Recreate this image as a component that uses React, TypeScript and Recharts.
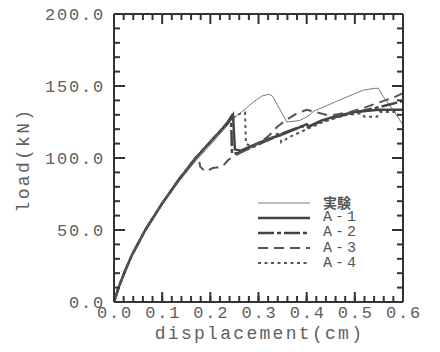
import { LineChart, Line, XAxis, YAxis } from 'recharts';

// displacement (cm), load (kN)
const JIKKEN = [
  [0, 0], [0.01, 10.2], [0.0235, 21.5], [0.037, 32], [0.065, 49.3], [0.1, 67.5], [0.134, 83.3],
  [0.169, 97.8], [0.2035, 110.3], [0.23, 120.5], [0.247, 127.5], [0.265, 132], [0.29, 139],
  [0.307, 143], [0.322, 144.3], [0.329, 143], [0.359, 125], [0.385, 126], [0.4, 128.5],
  [0.415, 132.5], [0.47, 140.5], [0.518, 147.2], [0.542, 148.4], [0.549, 148.4], [0.559, 142.6],
  [0.58, 133], [0.6, 123],
];
const A1 = [
  [0, 0], [0.01, 10.5], [0.0235, 22], [0.037, 32.5], [0.065, 50], [0.1, 68.5], [0.134, 84.7],
  [0.169, 99.8], [0.2035, 112.5], [0.235, 124], [0.247, 130], [0.251, 106], [0.262, 105],
  [0.28, 107.5], [0.3, 110.5], [0.32, 113], [0.35, 116.5], [0.386, 121.5], [0.4, 123.5],
  [0.405, 122], [0.43, 126], [0.46, 129], [0.5, 132], [0.55, 133.5], [0.6, 133.5],
];
const A2 = [
  [0, 0], [0.01, 10.5], [0.0235, 22], [0.037, 32.5], [0.065, 50], [0.1, 68.5], [0.134, 84.7],
  [0.169, 99.8], [0.2035, 112.5], [0.233, 123.5], [0.243, 128.5], [0.245, 103], [0.258, 103.5],
  [0.28, 106.5], [0.31, 111], [0.35, 117], [0.39, 122], [0.4, 121], [0.42, 124], [0.46, 128.5],
  [0.5, 131.5], [0.54, 134.5], [0.57, 137], [0.6, 139.5],
];
const A3 = [
  [0, 0], [0.01, 10.5], [0.0235, 22], [0.037, 32.5], [0.065, 50], [0.1, 68.5], [0.134, 84.7],
  [0.175, 101.5], [0.179, 94], [0.19, 90.5], [0.205, 93], [0.225, 94], [0.237, 98.6],
  [0.25, 101.5], [0.27, 105], [0.3, 110], [0.32, 115], [0.34, 122], [0.36, 127], [0.38, 131],
  [0.4, 133.5], [0.417, 132], [0.44, 130], [0.46, 130], [0.49, 132], [0.52, 135], [0.55, 138.5],
  [0.58, 142], [0.6, 145],
];
const A4 = [
  [0, 0], [0.01, 10.5], [0.0235, 22], [0.037, 32.5], [0.065, 50], [0.1, 68.5], [0.134, 84.7],
  [0.169, 99.8], [0.2035, 112.5], [0.235, 123.5], [0.248, 128], [0.26, 130.5], [0.272, 131.5],
  [0.274, 110], [0.285, 108], [0.3, 109.5], [0.32, 112.5], [0.345, 118], [0.347, 111],
  [0.366, 114.8], [0.4, 120], [0.434, 125], [0.483, 129.9], [0.514, 131], [0.52, 128.7],
  [0.546, 128.7], [0.552, 132], [0.59, 132],
];

const SERIES = [
  { name: '実験', data: JIKKEN, color: '#7a7a7a', width: 1, dash: undefined },
  { name: 'A-1', data: A1, color: '#444', width: 2.5, dash: undefined },
  { name: 'A-2', data: A2, color: '#444', width: 2.5, dash: '16 3 4 3' },
  { name: 'A-3', data: A3, color: '#555', width: 2, dash: '10 6' },
  { name: 'A-4', data: A4, color: '#555', width: 2, dash: '3 3.5' },
];

const X_TICKS = Array.from({ length: 31 }, (_, i) => +(i * 0.02).toFixed(2));
const Y_TICKS = Array.from({ length: 21 }, (_, i) => i * 10);

const FONT = '"Liberation Mono", monospace';
const INK = '#333';
const TXT = '#5e5e5e';
const FRAME = { stroke: INK, strokeWidth: 2 };
const TICK_LINE = { stroke: INK, strokeWidth: 2 };
const MINOR = 6;

// plot box edges (from the chart margins below)
const PLOT_TOP = 14;
const PLOT_RIGHT = 403;

const toPoints = (rows: number[][]) => rows.map(([d, load]) => ({ d, load }));
const majorX = (v: number) => Math.abs(v * 10 - Math.round(v * 10)) < 1e-6;
const majorY = (v: number) => v % 50 === 0;

// axis draws the short inward tick; this adds the longer major mark, the top/right marks and the label
const BottomTick = (props: any) => {
  const x = Number(props.x);
  const y = Number(props.y);
  const big = majorX(props.payload.value);
  const len = big ? 10 : MINOR;
  return (
    <g>
      {big && <rect x={x - 1} y={y - len} width={2} height={len} fill={INK} />}
      <rect x={x - 1} y={PLOT_TOP} width={2} height={len} fill={INK} />
      {big && (
        <text x={x + 1} y={y + 16} textAnchor="middle" fontFamily={FONT} fontSize={17} letterSpacing={1.8} fill={TXT}>
          {props.payload.value.toFixed(1)}
        </text>
      )}
    </g>
  );
};

const LeftTick = (props: any) => {
  const x = Number(props.x);
  const y = Number(props.y);
  const big = majorY(props.payload.value);
  const len = big ? 11 : MINOR;
  return (
    <g>
      {big && <rect x={x} y={y - 1} width={len} height={2} fill={INK} />}
      <rect x={PLOT_RIGHT - len} y={y - 1} width={len} height={2} fill={INK} />
      {big && (
        <text x={x - 9} y={y + 6} textAnchor="end" fontFamily={FONT} fontSize={17} letterSpacing={1.8} fill={TXT}>
          {props.payload.value.toFixed(1)}
        </text>
      )}
    </g>
  );
};

const LegendBox = () => (
  <div style={{ position: 'absolute', left: 258, top: 195, fontFamily: FONT, color: '#555' }}>
    {SERIES.map((s) => (
      <div key={s.name} style={{ display: 'flex', alignItems: 'center', height: 15.2 }}>
        <svg width={52} height={8} style={{ marginRight: 13, flex: 'none' }}>
          <line x1={0} x2={52} y1={4} y2={4} stroke={s.color} strokeWidth={s.width} strokeDasharray={s.dash} />
        </svg>
        <div
          style={
            s.name === '実験'
              ? { fontFamily: '"Noto Sans CJK JP", sans-serif', fontSize: 14, fontWeight: 700, height: 15, lineHeight: '15px' }
              : { fontSize: 15, letterSpacing: 3, height: 15, lineHeight: '15px' }
          }
        >
          {s.name}
        </div>
      </div>
    ))}
  </div>
);

export default function App() {
  return (
    <div style={{ position: 'absolute', left: 0, top: 0, width: 440, height: 352, background: '#fff' }}>
      <LineChart width={440} height={352} margin={{ top: 13, right: 36, bottom: 0, left: 0 }}>
        <XAxis
          xAxisId="b"
          dataKey="d"
          type="number"
          domain={[0, 0.6]}
          ticks={X_TICKS}
          interval={0}
          tickLine={TICK_LINE}
          tickSize={-MINOR}
          tickMargin={MINOR}
          tick={<BottomTick />}
          axisLine={FRAME}
          height={50}
          label={{
            content: (p: any) => (
              <text x={p.viewBox.x + p.viewBox.width / 2 + 1} y={p.viewBox.y + 37} textAnchor="middle" fontFamily={FONT} fontSize={18} letterSpacing={2.3} fill={TXT}>
                displacement(cm)
              </text>
            ),
          }}
        />
        <XAxis xAxisId="t" orientation="top" dataKey="d" type="number" domain={[0, 0.6]} tick={false} tickLine={false} axisLine={FRAME} height={1} />
        <YAxis
          yAxisId="l"
          type="number"
          domain={[0, 200]}
          ticks={Y_TICKS}
          interval={0}
          tickLine={TICK_LINE}
          tickSize={-MINOR}
          tickMargin={MINOR}
          tick={<LeftTick />}
          axisLine={FRAME}
          width={114}
          label={{
            content: (p: any) => {
              const cx = p.viewBox.x + 24;
              const cy = p.viewBox.y + p.viewBox.height / 2 + 2;
              return (
                <text x={cx} y={cy} transform={`rotate(-90 ${cx} ${cy})`} textAnchor="middle" dominantBaseline="central" fontFamily={FONT} fontSize={18} letterSpacing={2.3} fill={TXT}>
                  load(kN)
                </text>
              );
            },
          }}
        />
        <YAxis yAxisId="r" orientation="right" type="number" domain={[0, 200]} tick={false} tickLine={false} axisLine={FRAME} width={1} />
        {SERIES.map((s) => (
          <Line
            key={s.name}
            xAxisId="b"
            yAxisId="l"
            name={s.name}
            data={toPoints(s.data)}
            dataKey="load"
            type="linear"
            stroke={s.color}
            strokeWidth={s.width}
            strokeDasharray={s.dash}
            dot={false}
            isAnimationActive={false}
          />
        ))}
      </LineChart>
      <LegendBox />
    </div>
  );
}
